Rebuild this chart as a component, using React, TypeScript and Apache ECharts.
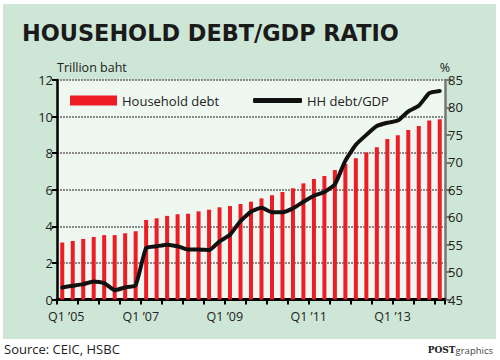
import { useEffect, useRef } from "react";
import * as echarts from "echarts";

const quarters = [
  "Q1 ’05", "Q2 ’05", "Q3 ’05", "Q4 ’05",
  "Q1 ’06", "Q2 ’06", "Q3 ’06", "Q4 ’06",
  "Q1 ’07", "Q2 ’07", "Q3 ’07", "Q4 ’07",
  "Q1 ’08", "Q2 ’08", "Q3 ’08", "Q4 ’08",
  "Q1 ’09", "Q2 ’09", "Q3 ’09", "Q4 ’09",
  "Q1 ’10", "Q2 ’10", "Q3 ’10", "Q4 ’10",
  "Q1 ’11", "Q2 ’11", "Q3 ’11", "Q4 ’11",
  "Q1 ’12", "Q2 ’12", "Q3 ’12", "Q4 ’12",
  "Q1 ’13", "Q2 ’13", "Q3 ’13", "Q4 ’13",
  "Q1 ’14",
];

// Trillion baht
const householdDebt = [
  3.12, 3.2, 3.31, 3.42, 3.52, 3.52, 3.62, 3.73,
  4.35, 4.44, 4.57, 4.66, 4.69, 4.82, 4.91, 5.04,
  5.11, 5.22, 5.35, 5.53, 5.7, 5.88, 6.08, 6.35,
  6.59, 6.75, 7.08, 7.41, 7.72, 8.03, 8.32, 8.78,
  8.98, 9.27, 9.49, 9.78, 9.85,
];

// %
const debtToGdp = [
  47.2, 47.5, 47.8, 48.3, 48.0, 46.7, 47.2, 47.6,
  54.4, 54.7, 55.0, 54.7, 54.1, 54.1, 54.0, 55.6,
  56.8, 59.3, 61.0, 61.7, 60.9, 60.9, 61.6, 62.8,
  63.9, 64.6, 66.0, 70.3, 73.2, 75.0, 76.6, 77.2,
  77.6, 79.3, 80.3, 82.6, 83.0,
];

const xTickLabels = ["Q1 ’05", "Q1 ’07", "Q1 ’09", "Q1 ’11", "Q1 ’13"];

const FONT = "Open Sans";

export default function App() {
  const ref = useRef<HTMLDivElement>(null);

  useEffect(() => {
    if (!ref.current) return;
    const chart = echarts.init(ref.current, null, { renderer: "svg" });
    chart.setOption({
      animation: false,
      backgroundColor: "#ffffff",
      title: {
        text: "HOUSEHOLD DEBT/GDP RATIO",
        left: 17,
        top: 17,
        textStyle: {
          fontFamily: "DejaVu Sans",
          fontWeight: 900,
          fontSize: 22.4,
          color: "#1a1a1a",
        },
      },
      graphic: [
        {
          type: "rect",
          z: -10,
          shape: { x: 3, y: 4, width: 493, height: 335 },
          style: { fill: "#cde6d5" },
        },
        {
          type: "text",
          left: 4,
          top: 342,
          style: {
            text: "Source: CEIC, HSBC",
            font: `13px "${FONT}"`,
            fill: "#222",
          },
        },
        {
          type: "text",
          right: 7,
          top: 345,
          style: {
            text: "{a|POST}{b|graphics}",
            rich: {
              a: { fontFamily: "DejaVu Serif", fontWeight: "bold", fontSize: 9, fill: "#222" },
              b: { fontFamily: FONT, fontSize: 9.5, fill: "#444" },
            },
          },
        },
      ],
      legend: [
        {
          data: ["Household debt"],
          left: 65,
          top: 89,
          itemWidth: 47,
          itemHeight: 10,
          icon: "rect",
          textStyle: { fontFamily: FONT, fontSize: 13, color: "#222" },
        },
        {
          data: ["HH debt/GDP"],
          left: 248,
          top: 89,
          itemWidth: 49,
          itemHeight: 5,
          icon: "roundRect",
          textStyle: { fontFamily: FONT, fontSize: 13, color: "#222" },
        },
      ],
      grid: {
        left: 57,
        right: 55,
        top: 80,
        bottom: 60.5,
        show: true,
        backgroundColor: "#eff7f1",
        borderWidth: 0,
      },
      xAxis: {
        type: "category",
        data: quarters,
        boundaryGap: true,
        axisLine: { show: true, lineStyle: { color: "#000", width: 3 } },
        axisTick: {
          show: true,
          interval: 1,
          length: 5,
          lineStyle: { color: "#000", width: 2 },
        },
        axisLabel: {
          interval: (idx: number, value: string) => xTickLabels.includes(value),
          formatter: (value: string, idx: number) =>
            idx === 0 ? `{a|${value}}` : `{b|${value}}`,
          margin: 10,
          rich: {
            a: { fontFamily: FONT, fontSize: 12.5, color: "#222", padding: [0, 0, 0, 8] },
            b: { fontFamily: FONT, fontSize: 12.5, color: "#222", padding: [0, 10.5, 0, 0] },
          },
        },
        splitLine: { show: false },
      },
      yAxis: [
        {
          type: "value",
          min: 0,
          max: 12,
          interval: 2,
          position: "left",
          name: "Trillion baht",
          nameLocation: "end",
          nameGap: 6,
          nameTextStyle: {
            fontFamily: FONT,
            fontSize: 12.5,
            color: "#222",
            align: "left",
          },
          axisLine: { show: true, lineStyle: { color: "#000", width: 2.5 } },
          axisTick: { show: true, length: 5, lineStyle: { color: "#000", width: 2 } },
          axisLabel: { fontFamily: FONT, fontSize: 13, color: "#222", margin: 4 },
          splitLine: {
            show: true,
            lineStyle: { color: "#8a8a8a", width: 2, type: [2, 1] },
          },
        },
        {
          type: "value",
          min: 45,
          max: 85,
          interval: 5,
          position: "right",
          name: "%",
          nameLocation: "end",
          nameGap: 6,
          nameTextStyle: { fontFamily: FONT, fontSize: 12.5, color: "#222", align: "center" },
          axisLine: { show: true, lineStyle: { color: "#777", width: 2.5 } },
          axisTick: { show: true, length: 6, lineStyle: { color: "#777", width: 2 } },
          axisLabel: { fontFamily: FONT, fontSize: 13, color: "#222", margin: 3 },
          splitLine: { show: false },
        },
      ],
      series: [
        {
          name: "Household debt",
          type: "bar",
          data: householdDebt,
          yAxisIndex: 0,
          barWidth: 4,
          itemStyle: { color: "#ee1c24" },
        },
        {
          name: "HH debt/GDP",
          type: "line",
          data: debtToGdp,
          yAxisIndex: 1,
          symbol: "none",
          smooth: 0.15,
          z: 5,
          itemStyle: { color: "#111" },
          lineStyle: { color: "#111", width: 4, join: "round", cap: "round" },
        },
      ],
    });
    return () => chart.dispose();
  }, []);

  return (
    <div
      ref={ref}
      style={{ position: "fixed", left: 0, top: 0, width: 500, height: 360 }}
    />
  );
}
